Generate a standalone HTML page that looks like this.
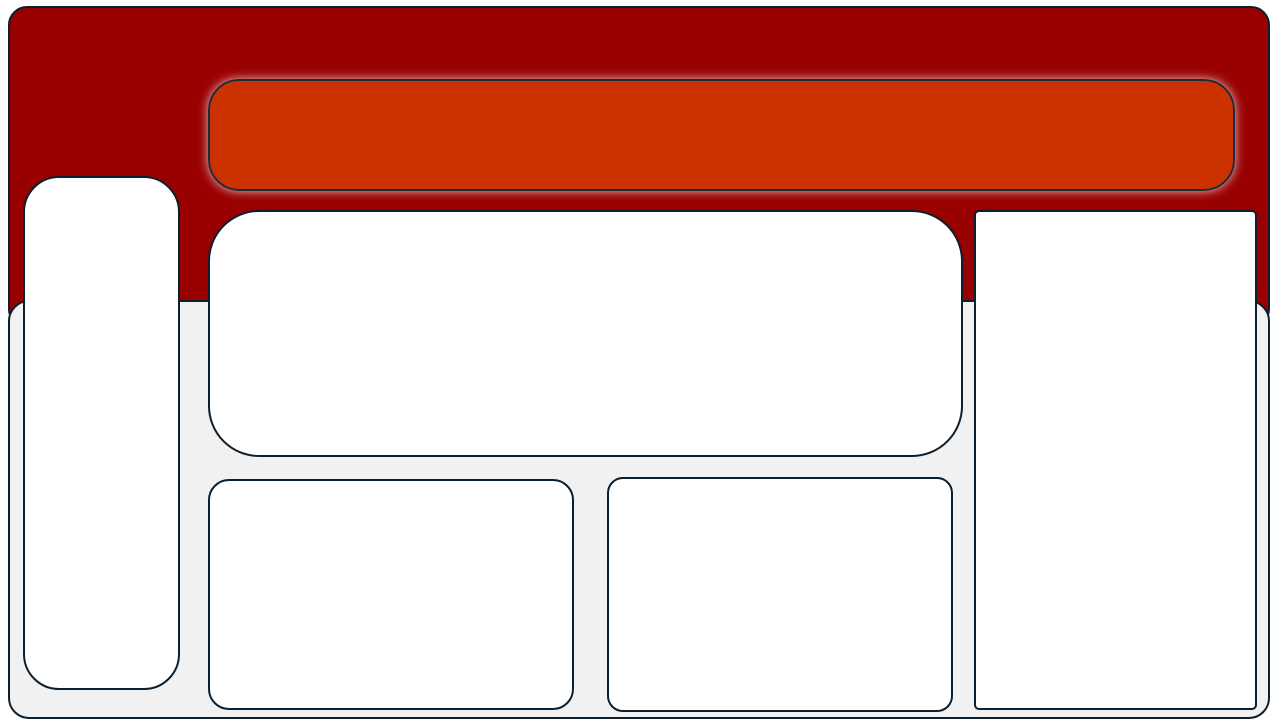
<!DOCTYPE html>
<html><head><meta charset="utf-8"><style>
html,body{margin:0;padding:0;width:1280px;height:720px;overflow:hidden;background:#fff;font-family:"Liberation Sans",sans-serif;}
</style></head><body>
<svg width="1280" height="720" viewBox="0 0 1280 720" xmlns="http://www.w3.org/2000/svg">
<defs>
<filter id="glow" x="-10%" y="-40%" width="120%" height="180%">
<feGaussianBlur in="SourceAlpha" stdDeviation="5" result="b"/>
<feFlood flood-color="#ffffff" flood-opacity="0.75"/>
<feComposite in2="b" operator="in" result="g"/>
<feMerge><feMergeNode in="g"/><feMergeNode in="SourceGraphic"/></feMerge>
</filter>
</defs>
<g stroke="#0d1f2d" stroke-width="2">
<rect x="9" y="7" width="1260" height="320" rx="18" fill="#990000"/>
<rect x="9" y="301" width="1260" height="417" rx="20" fill="#f1f1f1"/>
<rect x="209" y="80" width="1025" height="110" rx="30" fill="#cc3300" stroke="#1a2a3a" filter="url(#glow)"/>
<rect x="24" y="177" width="155" height="512" rx="35" fill="#fff"/>
<rect x="209" y="211" width="753" height="245" rx="50" fill="#fff"/>
<rect x="209" y="480" width="364" height="229" rx="20" fill="#fff"/>
<rect x="608" y="478" width="344" height="233" rx="15" fill="#fff"/>
<rect x="975" y="211" width="281" height="498" rx="4" fill="#fff"/>
</g>
</svg>
</body></html>
